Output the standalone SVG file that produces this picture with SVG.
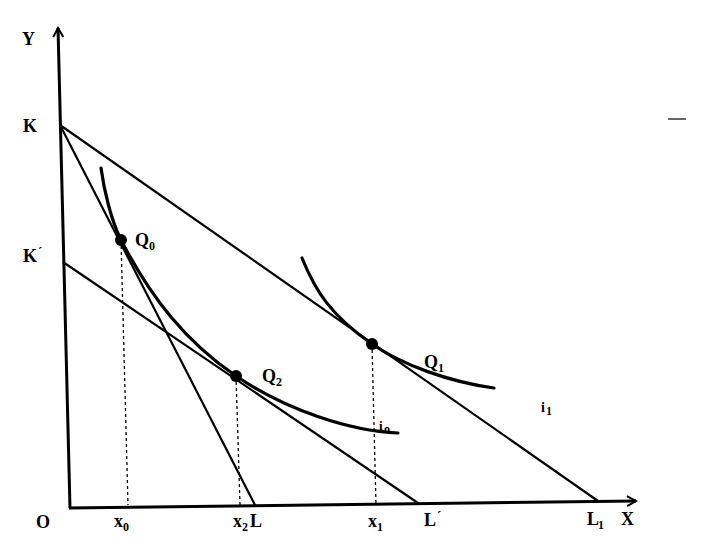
<svg xmlns="http://www.w3.org/2000/svg" width="720" height="540" viewBox="0 0 720 540">
<style>
.ax{stroke:#000;stroke-width:3;fill:none}
.ln{stroke:#000;stroke-width:2.2;fill:none}
.cv{stroke:#000;stroke-width:3.2;fill:none;stroke-linecap:round}
.ds{stroke:#000;stroke-width:1.3;stroke-dasharray:3,3;fill:none}
text{font-family:"Liberation Serif","Times New Roman",serif;font-weight:bold;font-size:18px;fill:#000}
.sub{font-size:12px}
</style>
<defs>
<marker id="ar" markerWidth="12" markerHeight="12" refX="10" refY="6" orient="auto" markerUnits="userSpaceOnUse">
<path d="M1,1 L10,6 L1,11" fill="none" stroke="#000" stroke-width="2"/>
</marker>
</defs>
<g id="axes">
<line class="ax" x1="70" y1="508" x2="58" y2="28" marker-end="url(#ar)"/>
<line class="ax" x1="69" y1="508" x2="636" y2="501" marker-end="url(#ar)"/>
</g>
<g id="connectors">
<line class="ln" x1="60" y1="125" x2="255" y2="505"/>
<line class="ln" x1="60" y1="125" x2="598" y2="501"/>
<line class="ln" x1="63" y1="262" x2="418" y2="503"/>
<line class="ds" x1="121" y1="240" x2="128" y2="505"/>
<line class="ds" x1="236" y1="376" x2="240" y2="505"/>
<line class="ds" x1="372" y1="344" x2="376" y2="505"/>
</g>
<g id="i0">
<path class="cv" d="M101,168 C104,190 111,220 121,240 C151,298 186,342 236,376 C286,410 350,431 398,433"/>
<text x="379" y="430" style="font-size:13px">i</text><text x="384" y="433" class="sub">o</text>
</g>
<g id="i1">
<path class="cv" d="M302,258 C315,290 330,315 372,344 C402,365 450,382 494,388"/>
<text x="541" y="412" style="font-size:14px">i</text><text x="546" y="415" class="sub">1</text>
</g>
<g id="Q0">
<circle cx="121" cy="240" r="6"/>
<text x="135" y="246">Q</text><text x="149" y="250" class="sub">0</text>
</g>
<g id="Q2">
<circle cx="236" cy="376" r="6"/>
<text x="262" y="382">Q</text><text x="276" y="386" class="sub">2</text>
</g>
<g id="Q1">
<circle cx="372" cy="344" r="6"/>
<text x="424" y="368">Q</text><text x="438" y="372" class="sub">1</text>
</g>
<g id="labels">
<text x="22" y="45">Y</text>
<text x="23" y="132">K</text>
<text x="23" y="262">K</text><text x="38" y="256" style="font-size:13px">´</text>
<text x="36" y="528">O</text>
<text x="114" y="527">x</text><text x="123" y="531" class="sub">0</text>
<text x="233" y="527">x</text><text x="242" y="531" class="sub">2</text><text x="250" y="527">L</text>
<text x="368" y="527">x</text><text x="377" y="531" class="sub">1</text>
<text x="424" y="526">L</text><text x="437" y="520" style="font-size:13px">´</text>
<text x="587" y="525">L</text><text x="598" y="529" class="sub">1</text>
<text x="621" y="525">X</text>
<line x1="668" y1="119" x2="686" y2="119" stroke="#000" stroke-width="1.2"/>
</g>
</svg>
